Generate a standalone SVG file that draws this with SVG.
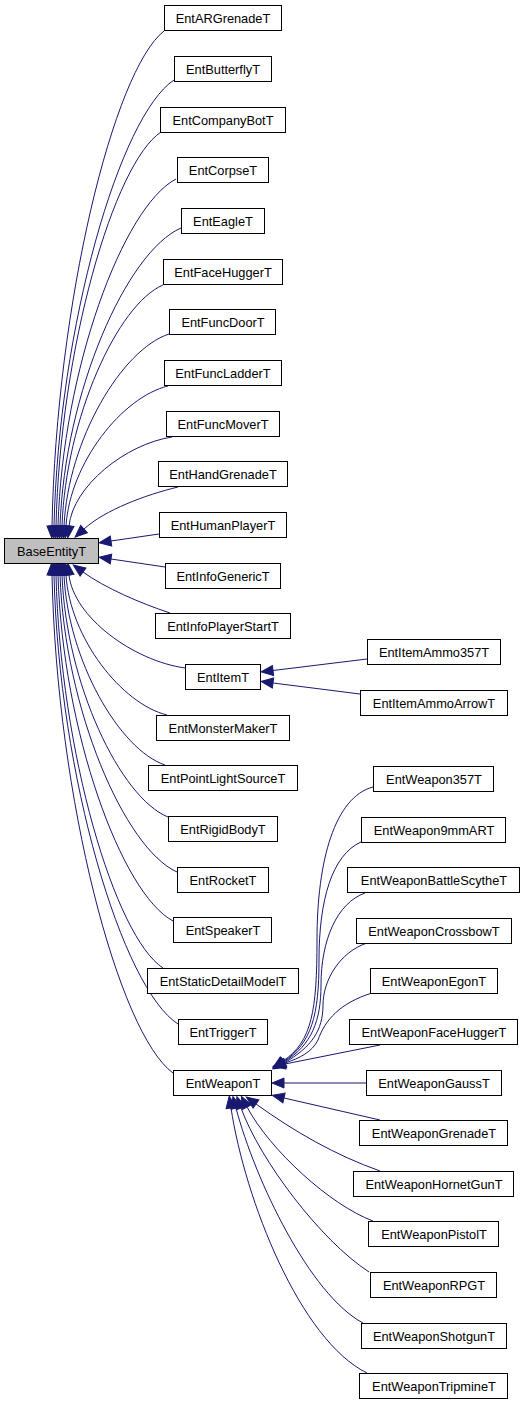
<svg xmlns="http://www.w3.org/2000/svg" width="525" height="1405" viewBox="0 0 525 1405">
<style>
.n rect{fill:#ffffff;stroke:#000000;stroke-width:1}
.n.root rect{fill:#bfbfbf}
.n text{font-family:"Liberation Sans",Arial,sans-serif;font-size:12.8px;fill:#000000;text-anchor:middle}
#edges path{fill:none;stroke:#191970;stroke-width:1;marker-end:url(#ah)}
</style>
<defs>
<marker id="ah" markerWidth="14" markerHeight="11" refX="0" refY="5" orient="auto" markerUnits="userSpaceOnUse" overflow="visible">
<path d="M0,0 L12,5 L0,10 z" fill="#191970" stroke="#191970" stroke-width="1"/>
</marker>
</defs>
<rect width="525" height="1405" fill="#ffffff"/>
<g id="edges">
<path d="M164,31 C113.6,70.6 56.5,303.3 52,526"/>
<path d="M174,80 C120,115.7 58.8,325.3 54,526"/>
<path d="M161,132 C113.8,163.5 60.2,348.7 56,526"/>
<path d="M176,179 C122.9,206.8 62.7,369.9 58,526"/>
<path d="M181,228 C126.6,251.8 64.8,391.9 60,526"/>
<path d="M163,285 C117.6,304.3 66,417.6 62,526"/>
<path d="M169,334 C121.8,349.4 68.2,439.6 64,526"/>
<path d="M168,386 C122.1,397.2 70.1,463 66,526"/>
<path d="M172,437 C125.6,444.1 73.1,486 69,526"/>
<path d="M178,487 C145,495 105,510 84,529"/>
<path d="M159,534 L111,541"/>
<path d="M165,567 L111,559"/>
<path d="M170,613 C140,603 105,588 83,572"/>
<path d="M185,668 C132.8,660.6 73.6,616.9 69,575"/>
<path d="M167,715 C121.6,703.8 70,638 66,575"/>
<path d="M165,765 C119.6,749.8 68,660.5 64,575"/>
<path d="M168,817 C120.3,797.6 66.2,683.9 62,575"/>
<path d="M177,872 C124.4,848.2 64.7,708.7 60,575"/>
<path d="M173,921 C121.3,893.3 62.6,730.7 58,575"/>
<path d="M163,968 C114.9,936.6 60.3,751.9 56,575"/>
<path d="M178,1024 C122.2,988.1 59,777.1 54,575"/>
<path d="M173,1073 C118.6,1033.2 56.8,799.1 52,575"/>
<path d="M367,659 L273,670.5"/>
<path d="M360,694 L273,683"/>
<path d="M373,787 C335,797 317,860 317,940 C317,1010 312,1042 283,1061"/>
<path d="M361,842 C332,855 319,900 319,960 C319,1015 312,1043 283,1062"/>
<path d="M365,893 C337,903 321,940 321,985 C321,1020 312,1045 284,1062"/>
<path d="M367,943 C340,952 323,980 323,1005 C323,1030 312,1047 284,1063"/>
<path d="M372,993 C340,1003 325,1020 318,1040 C312,1052 300,1058 285,1063"/>
<path d="M380,1045 L285,1064"/>
<path d="M366,1083 L284,1083"/>
<path d="M380,1120 L284,1098"/>
<path d="M380,1171 C335,1155 295,1132 256,1104"/>
<path d="M373,1221 C330,1205 270,1150 247,1107"/>
<path d="M369,1272 C320,1240 260,1160 241,1108"/>
<path d="M363,1323 C310,1295 255,1180 236,1108"/>
<path d="M367,1373 C300,1340 245,1200 231,1108"/>
</g>
<g id="BaseEntityT" class="n root"><rect x="4.5" y="538.5" width="94" height="25"/><text x="51.5" y="555.5">BaseEntityT</text></g>
<g id="EntARGrenadeT" class="n"><rect x="164.5" y="5.5" width="117" height="25"/><text x="223" y="22.5">EntARGrenadeT</text></g>
<g id="EntButterflyT" class="n"><rect x="174.5" y="56.5" width="97" height="25"/><text x="223" y="73.5">EntButterflyT</text></g>
<g id="EntCompanyBotT" class="n"><rect x="160.5" y="107.5" width="125" height="25"/><text x="223" y="124.5">EntCompanyBotT</text></g>
<g id="EntCorpseT" class="n"><rect x="177.5" y="157.5" width="91" height="25"/><text x="223" y="174.5">EntCorpseT</text></g>
<g id="EntEagleT" class="n"><rect x="181.5" y="208.5" width="83" height="25"/><text x="223" y="225.5">EntEagleT</text></g>
<g id="EntFaceHuggerT" class="n"><rect x="163.5" y="259.5" width="119" height="25"/><text x="223" y="276.5">EntFaceHuggerT</text></g>
<g id="EntFuncDoorT" class="n"><rect x="169.5" y="309.5" width="106" height="25"/><text x="223" y="326.5">EntFuncDoorT</text></g>
<g id="EntFuncLadderT" class="n"><rect x="164.5" y="360.5" width="117" height="25"/><text x="223" y="377.5">EntFuncLadderT</text></g>
<g id="EntFuncMoverT" class="n"><rect x="166.5" y="411.5" width="113" height="25"/><text x="223" y="428.5">EntFuncMoverT</text></g>
<g id="EntHandGrenadeT" class="n"><rect x="158.5" y="461.5" width="129" height="25"/><text x="223" y="478.5">EntHandGrenadeT</text></g>
<g id="EntHumanPlayerT" class="n"><rect x="159.5" y="512.5" width="127" height="25"/><text x="223" y="529.5">EntHumanPlayerT</text></g>
<g id="EntInfoGenericT" class="n"><rect x="165.5" y="563.5" width="115" height="25"/><text x="223" y="580.5">EntInfoGenericT</text></g>
<g id="EntInfoPlayerStartT" class="n"><rect x="155.5" y="613.5" width="135" height="25"/><text x="223" y="630.5">EntInfoPlayerStartT</text></g>
<g id="EntItemT" class="n"><rect x="185.5" y="664.5" width="75" height="25"/><text x="223" y="681.5">EntItemT</text></g>
<g id="EntMonsterMakerT" class="n"><rect x="156.5" y="715.5" width="133" height="25"/><text x="223" y="732.5">EntMonsterMakerT</text></g>
<g id="EntPointLightSourceT" class="n"><rect x="148.5" y="765.5" width="149" height="25"/><text x="223" y="782.5">EntPointLightSourceT</text></g>
<g id="EntRigidBodyT" class="n"><rect x="168.5" y="816.5" width="109" height="25"/><text x="223" y="833.5">EntRigidBodyT</text></g>
<g id="EntRocketT" class="n"><rect x="177.5" y="867.5" width="91" height="25"/><text x="223" y="884.5">EntRocketT</text></g>
<g id="EntSpeakerT" class="n"><rect x="173.5" y="917.5" width="98" height="25"/><text x="223" y="934.5">EntSpeakerT</text></g>
<g id="EntStaticDetailModelT" class="n"><rect x="147.5" y="968.5" width="151" height="25"/><text x="223" y="985.5">EntStaticDetailModelT</text></g>
<g id="EntTriggerT" class="n"><rect x="178.5" y="1019.5" width="89" height="25"/><text x="223" y="1036.5">EntTriggerT</text></g>
<g id="EntWeaponT" class="n"><rect x="173.5" y="1070.5" width="98" height="25"/><text x="223" y="1087.5">EntWeaponT</text></g>
<g id="EntItemAmmo357T" class="n"><rect x="367.5" y="639.5" width="133" height="25"/><text x="434" y="656.5">EntItemAmmo357T</text></g>
<g id="EntItemAmmoArrowT" class="n"><rect x="360.5" y="690.5" width="147" height="25"/><text x="434" y="707.5">EntItemAmmoArrowT</text></g>
<g id="EntWeapon357T" class="n"><rect x="373.5" y="766.5" width="120" height="25"/><text x="434" y="783.5">EntWeapon357T</text></g>
<g id="EntWeapon9mmART" class="n"><rect x="361.5" y="817.5" width="144" height="25"/><text x="434" y="834.5">EntWeapon9mmART</text></g>
<g id="EntWeaponBattleScytheT" class="n"><rect x="347.5" y="867.5" width="172" height="25"/><text x="434" y="884.5">EntWeaponBattleScytheT</text></g>
<g id="EntWeaponCrossbowT" class="n"><rect x="356.5" y="918.5" width="155" height="25"/><text x="434" y="935.5">EntWeaponCrossbowT</text></g>
<g id="EntWeaponEgonT" class="n"><rect x="370.5" y="968.5" width="127" height="25"/><text x="434" y="985.5">EntWeaponEgonT</text></g>
<g id="EntWeaponFaceHuggerT" class="n"><rect x="349.5" y="1019.5" width="168" height="25"/><text x="434" y="1036.5">EntWeaponFaceHuggerT</text></g>
<g id="EntWeaponGaussT" class="n"><rect x="366.5" y="1070.5" width="135" height="25"/><text x="434" y="1087.5">EntWeaponGaussT</text></g>
<g id="EntWeaponGrenadeT" class="n"><rect x="359.5" y="1120.5" width="148" height="25"/><text x="434" y="1137.5">EntWeaponGrenadeT</text></g>
<g id="EntWeaponHornetGunT" class="n"><rect x="353.5" y="1171.5" width="160" height="25"/><text x="434" y="1188.5">EntWeaponHornetGunT</text></g>
<g id="EntWeaponPistolT" class="n"><rect x="368.5" y="1221.5" width="130" height="25"/><text x="434" y="1238.5">EntWeaponPistolT</text></g>
<g id="EntWeaponRPGT" class="n"><rect x="370.5" y="1272.5" width="126" height="25"/><text x="434" y="1289.5">EntWeaponRPGT</text></g>
<g id="EntWeaponShotgunT" class="n"><rect x="361.5" y="1323.5" width="145" height="25"/><text x="434" y="1340.5">EntWeaponShotgunT</text></g>
<g id="EntWeaponTripmineT" class="n"><rect x="359.5" y="1373.5" width="148" height="25"/><text x="434" y="1390.5">EntWeaponTripmineT</text></g>
</svg>
